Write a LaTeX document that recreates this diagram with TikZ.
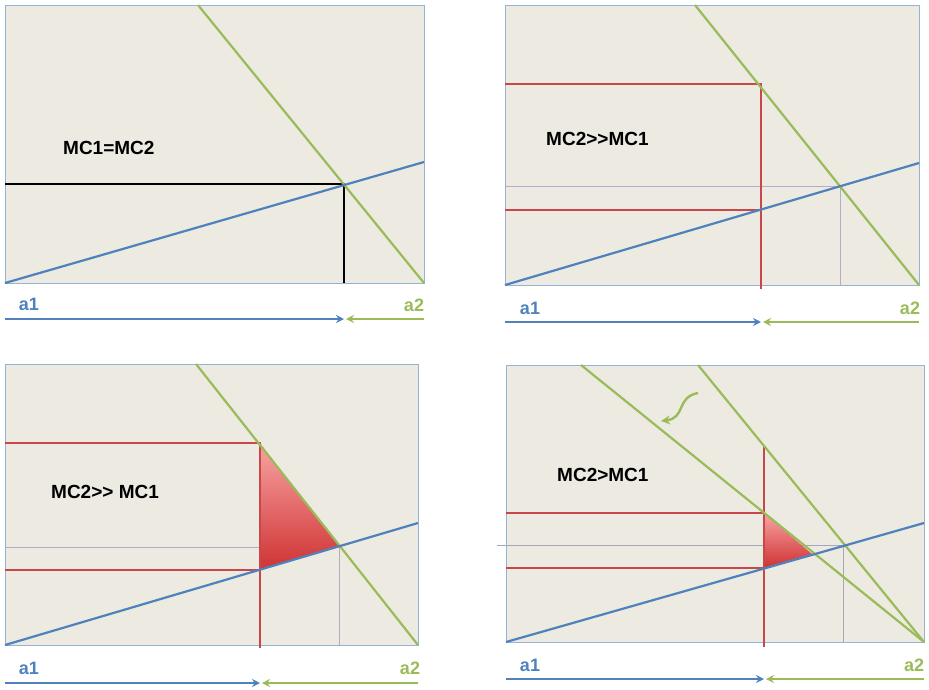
\documentclass[tikz,border=0pt]{standalone}
\usepackage{fontspec}
\setmainfont{Liberation Sans}
\usetikzlibrary{arrows.meta}
\definecolor{bgc}{HTML}{ECEAE1}
\definecolor{brd}{HTML}{95B3D7}
\definecolor{bl}{HTML}{4F81BD}
\definecolor{gr}{HTML}{9BBB59}
\definecolor{rd}{HTML}{C8484A}
\definecolor{thn}{HTML}{B8A9C9}
\definecolor{thg}{HTML}{A3A7B8}
\definecolor{tritop}{HTML}{F8A4A4}
\definecolor{tribot}{HTML}{CF3232}
\begin{document}
\begin{tikzpicture}[x=1pt,y=-1pt,
  panel/.style={fill=bgc,draw=brd,line width=1pt},
  bline/.style={draw=bl,line width=2.2pt},
  gline/.style={draw=gr,line width=2.2pt},
  rline/.style={draw=rd,line width=2.6pt},
  kline/.style={draw=black,line width=2pt},
  thin/.style={draw=thn,line width=0.9pt},
  thing/.style={draw=thg,line width=0.9pt},
  mclabel/.style={anchor=west,font=\fontsize{19}{19}\selectfont\bfseries,inner sep=0pt},
  alabel/.style={font=\fontsize{18}{18}\selectfont\bfseries,inner sep=0pt},
  barrow/.style={draw=bl,line width=2pt,-{Stealth[length=8pt,width=8pt]}},
  garrow/.style={draw=gr,line width=2pt,-{Stealth[length=8pt,width=8pt]}},
  tri/.style={top color=tritop,bottom color=tribot,draw=none}]
\useasboundingbox (0,0) rectangle (929,689);

% ---------- Panel 1 ----------
\draw[panel] (5,5) rectangle (424,283);
\coordinate (p1g0) at (198,5);
\coordinate (p1g1) at (424,283);
\coordinate (p1b0) at (5,283);
\coordinate (p1b1) at (424,162);
\coordinate (p1x) at (344,184);
\coordinate (p1l) at (5,184);
\coordinate (p1d) at (344,283);
\draw[kline] (p1l) -- (p1x) -- (p1d);
\draw[gline] (p1g0) -- (p1g1);
\draw[bline] (p1b0) -- (p1b1);
\node[mclabel] (t1) at (63,148) {MC1=MC2};
\node[alabel,text=bl] (a1p1) at (29,304) {a1};
\node[alabel,text=gr] (a2p1) at (414,305) {a2};
\coordinate (p1al) at (5,319);
\coordinate (p1am) at (344,319);
\coordinate (p1an) at (346,319);
\coordinate (p1ar) at (424,319);
\draw[barrow] (p1al) -- (p1am);
\draw[garrow] (p1ar) -- (p1an);

% ---------- Panel 2 ----------
\draw[panel] (505,5) rectangle (919,285);
\coordinate (p2g0) at (695,5);
\coordinate (p2g1) at (919,285);
\coordinate (p2b0) at (505,285);
\coordinate (p2b1) at (919,163);
\coordinate (p2x) at (840,186);
\coordinate (p2xl) at (505,186);
\coordinate (p2xd) at (840,285);
\draw[thin] (p2xl) -- (p2x) -- (p2xd);
\coordinate (p2rt) at (761,84);
\coordinate (p2rtl) at (505,84);
\coordinate (p2rb) at (761,210);
\coordinate (p2rbl) at (505,210);
\coordinate (p2rd) at (761,289);
\draw[rline] (p2rtl) -- (p2rt) -- (p2rd);
\draw[rline] (p2rbl) -- (p2rb);
\draw[gline] (p2g0) -- (p2g1);
\draw[bline] (p2b0) -- (p2b1);
\node[mclabel] (t2) at (546,139) {MC2>{}>MC1};
\node[alabel,text=bl] (a1p2) at (530,308) {a1};
\node[alabel,text=gr] (a2p2) at (910,308) {a2};
\coordinate (p2al) at (505,322);
\coordinate (p2am) at (761,322);
\coordinate (p2an) at (763,322);
\coordinate (p2ar) at (919,322);
\draw[barrow] (p2al) -- (p2am);
\draw[garrow] (p2ar) -- (p2an);

% ---------- Panel 3 ----------
\draw[panel] (5,364) rectangle (418,645);
\coordinate (p3g0) at (196,364);
\coordinate (p3g1) at (418,645);
\coordinate (p3b0) at (5,645);
\coordinate (p3b1) at (418,523);
\coordinate (p3x) at (339,546);
\coordinate (p3xl) at (5,547);
\coordinate (p3xm) at (260,547);
\coordinate (p3xd) at (339,645);
\draw[thin] (p3xl) -- (p3xm);
\draw[thin] (p3x) -- (p3xd);
\coordinate (p3rt) at (260,443);
\coordinate (p3rtl) at (5,443);
\coordinate (p3rb) at (260,570);
\coordinate (p3rbl) at (5,570);
\coordinate (p3rd) at (260,648);
\shade[tri] (p3rt) -- (p3x) -- (p3rb) -- cycle;
\draw[rline] (p3rtl) -- (p3rt) -- (p3rd);
\draw[rline] (p3rbl) -- (p3rb);
\draw[gline] (p3g0) -- (p3g1);
\draw[bline] (p3b0) -- (p3b1);
\node[mclabel] (t3) at (51,492) {MC2>{}> MC1};
\node[alabel,text=bl] (a1p3) at (29,668) {a1};
\node[alabel,text=gr] (a2p3) at (410,668) {a2};
\coordinate (p3al) at (5,683);
\coordinate (p3am) at (260,683);
\coordinate (p3an) at (262,683);
\coordinate (p3ar) at (418,683);
\draw[barrow] (p3al) -- (p3am);
\draw[garrow] (p3ar) -- (p3an);

% ---------- Panel 4 ----------
\draw[panel] (506,365) rectangle (924,642);
\coordinate (p4g0) at (698,365);
\coordinate (p4h0) at (581,365);
\coordinate (p4g1) at (924,642);
\coordinate (p4b0) at (506,642);
\coordinate (p4b1) at (924,523);
\coordinate (p4x) at (843,545);
\coordinate (p4xl) at (497,545);
\coordinate (p4xd) at (843,642);
\coordinate (p4y) at (812,554);
\draw[thing] (p4xl) -- (p4x) -- (p4xd);
\coordinate (p4rt) at (764,513);
\coordinate (p4rtop) at (764,447);
\coordinate (p4rtl) at (506,513);
\coordinate (p4rb) at (764,568);
\coordinate (p4rbl) at (506,568);
\coordinate (p4rd) at (764,647);
\shade[tri] (p4rt) -- (p4y) -- (p4rb) -- cycle;
\draw[rline] (p4rtop) -- (p4rd);
\draw[rline] (p4rtl) -- (p4rt);
\draw[rline] (p4rbl) -- (p4rb);
\draw[gline] (p4g0) -- (p4g1);
\draw[gline] (p4h0) -- (p4g1);
\draw[bline] (p4b0) -- (p4b1);
\coordinate (p4c0) at (698,393);
\coordinate (p4c1) at (661,421);
\draw[draw=gr,line width=2.4pt,-{Stealth[length=9pt,width=9pt]}] (p4c0) .. controls (676,397) and (686,418) .. (p4c1);
\node[mclabel] (t4) at (557,475) {MC2>MC1};
\node[alabel,text=bl] (a1p4) at (530,665) {a1};
\node[alabel,text=gr] (a2p4) at (914,665) {a2};
\coordinate (p4al) at (506,679);
\coordinate (p4am) at (764,679);
\coordinate (p4an) at (766,679);
\coordinate (p4ar) at (924,679);
\draw[barrow] (p4al) -- (p4am);
\draw[garrow] (p4ar) -- (p4an);
\end{tikzpicture}
\end{document}
